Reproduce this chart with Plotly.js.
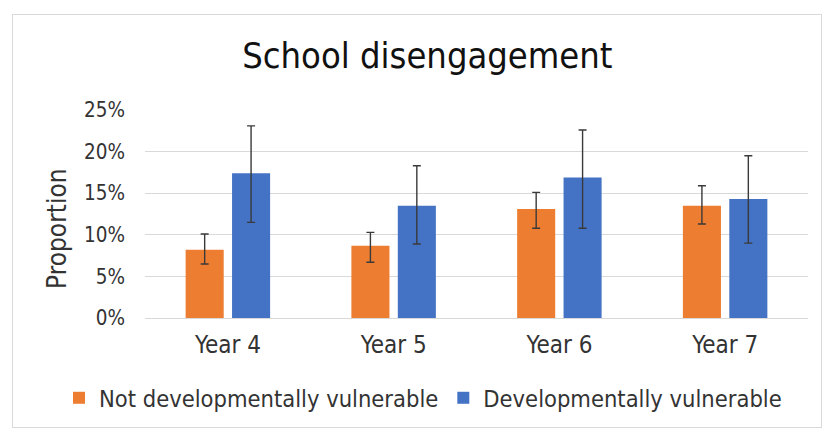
<!DOCTYPE html>
<html>
<head>
<meta charset="utf-8">
<script src="https://cdn.plot.ly/plotly-3.0.1.min.js"></script>
<style>
  html, body { margin: 0; padding: 0; background: #ffffff; }
  #wrap { position: relative; width: 825px; height: 432px; }
  #frame { position: absolute; left: 12px; top: 14px; width: 810px; height: 414px; border: 1px solid #d9d9d9; box-sizing: border-box; }
  #chart { position: absolute; left: 0; top: 0; width: 825px; height: 432px; }
</style>
</head>
<body>
<div id="wrap">
  <div id="frame"></div>
  <div id="chart"></div>
</div>
<script>
const categories = ["Year 4", "Year 5", "Year 6", "Year 7"];
const seriesNames = ["Not developmentally vulnerable", "Developmentally vulnerable"];
const yAxisTitle = "Proportion";

const notVulnerable = [0.082, 0.087, 0.131, 0.135];
const notVulnerableUpper = [0.101, 0.103, 0.151, 0.159];
const notVulnerableLower = [0.065, 0.067, 0.108, 0.113];

const vulnerable = [0.174, 0.135, 0.169, 0.143];
const vulnerableUpper = [0.231, 0.183, 0.226, 0.195];
const vulnerableLower = [0.115, 0.089, 0.108, 0.090];

const FONT = '"DejaVu Sans Condensed", "DejaVu Sans", sans-serif';
const TEXT = '#333333';

function errBars(vals, upper, lower) {
  return {
    type: 'data',
    symmetric: false,
    array: upper.map((u, i) => u - vals[i]),
    arrayminus: vals.map((v, i) => v - lower[i]),
    color: '#3a3a3a',
    thickness: 1.4,
    width: 4
  };
}

const traces = [
  {
    type: 'bar', name: seriesNames[0], x: categories, y: notVulnerable,
    marker: { color: '#ED7D31' },
    error_y: errBars(notVulnerable, notVulnerableUpper, notVulnerableLower),
    hoverinfo: 'none'
  },
  {
    type: 'bar', name: seriesNames[1], x: categories, y: vulnerable,
    marker: { color: '#4472C4' },
    error_y: errBars(vulnerable, vulnerableUpper, vulnerableLower),
    hoverinfo: 'none'
  }
];

const layout = {
  width: 825, height: 432,
  paper_bgcolor: 'rgba(0,0,0,0)',
  plot_bgcolor: 'rgba(0,0,0,0)',
  margin: { l: 145, r: 17, t: 110, b: 114 },
  font: { family: FONT, color: TEXT },
  title: {
    text: 'School disengagement',
    font: { family: FONT, size: 36, color: '#111111' },
    x: 0.518, xanchor: 'center', xref: 'container',
    y: 1 - 55 / 432, yanchor: 'middle', yref: 'container'
  },
  barmode: 'group',
  bargap: 0.44,
  bargroupgap: 0.18,
  xaxis: {
    type: 'category',
    showgrid: false, showline: false, zeroline: false,
    ticks: '',
    ticklabelstandoff: 10,
    tickfont: { family: FONT, size: 24, color: TEXT }
  },
  yaxis: {
    range: [0, 0.2501],
    dtick: 0.05, tick0: 0,
    tickformat: '.0%',
    showgrid: true, gridcolor: '#d9d9d9', gridwidth: 1,
    zeroline: true, zerolinecolor: '#d9d9d9', zerolinewidth: 1,
    showline: false, ticks: '',
    ticklabelstandoff: 19,
    tickfont: { family: FONT, size: 20.5, color: TEXT },
    automargin: false
  },
  annotations: [{
    text: yAxisTitle,
    xref: 'paper', yref: 'paper',
    x: (57 - 145) / 663, y: (318 - 229) / 208,
    xanchor: 'center', yanchor: 'middle',
    textangle: -90, showarrow: false,
    font: { family: FONT, size: 26, color: TEXT }
  }],
  showlegend: true,
  legend: {
    orientation: 'h',
    xref: 'paper', yref: 'paper',
    x: (59 - 145) / 663, xanchor: 'left',
    y: (318 - 398) / 208, yanchor: 'middle',
    font: { family: FONT, size: 23.5, color: TEXT },
    itemwidth: 30,
    traceorder: 'normal'
  }
};

Plotly.newPlot('chart', traces, layout, { displayModeBar: false, staticPlot: true });
</script>
</body>
</html>
